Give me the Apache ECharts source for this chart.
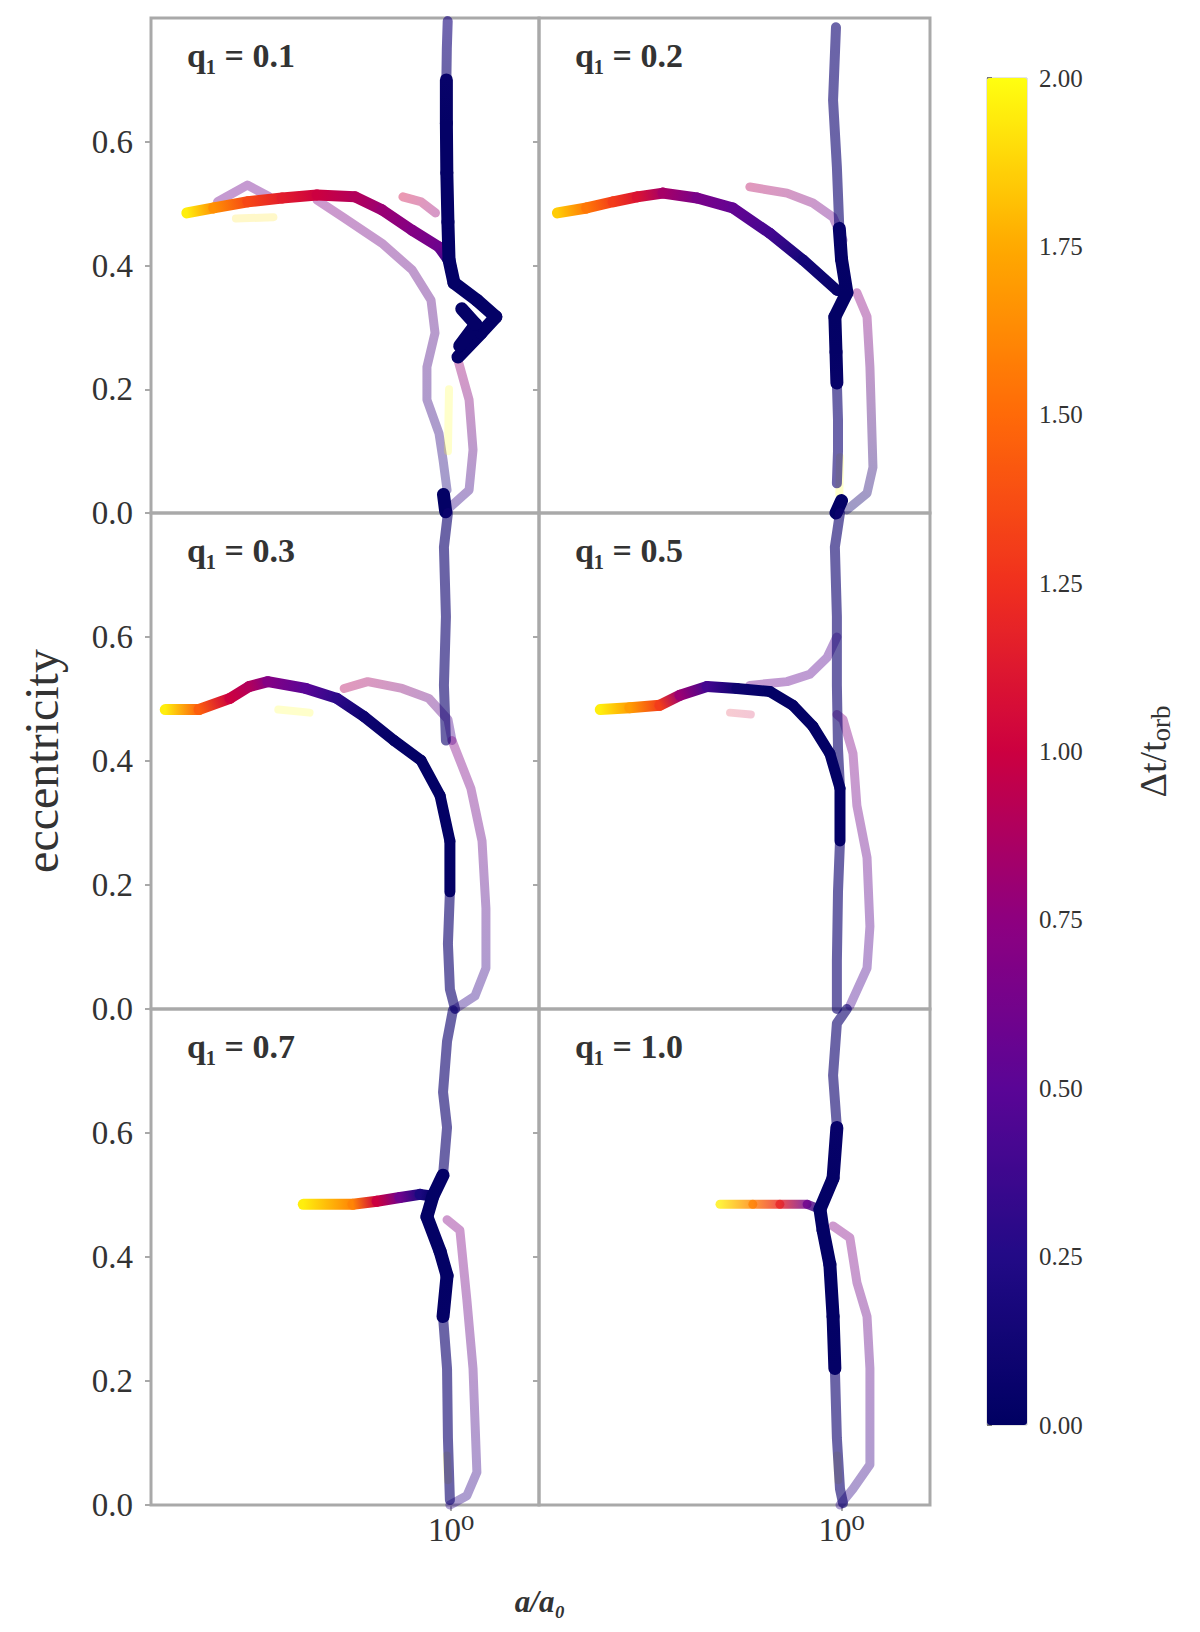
<!DOCTYPE html>
<html><head><meta charset="utf-8">
<script src="https://cdn.jsdelivr.net/npm/echarts@6/dist/echarts.min.js"></script>
<style>html,body{margin:0;padding:0;background:#fff}#c{width:1200px;height:1632px}</style>
</head><body><div id="c"></div>
<script>
// ---------- labels / ticks ----------
const panelLabels = ['q\u2081 = 0.1','q\u2081 = 0.2','q\u2081 = 0.3','q\u2081 = 0.5','q\u2081 = 0.7','q\u2081 = 1.0'];
const yTickValues = [0, 0.2, 0.4, 0.6];
const colorbarTicks = [0, 0.25, 0.5, 0.75, 1.0, 1.25, 1.5, 1.75, 2.0];
const xTickLabel = '10\u2070';
const cmapColors = ['#000062','#220a86','#5a0596','#8e0080','#cc0040','#f0301e','#ff6a08','#ffaa00','#ffff10'];

// ---------- trajectories: [a/a0, eccentricity, Δt] ----------
// panel 1 (q=0.1)
const p1_main = [[0.295,0.485,1.95],[0.334,0.493,1.65],[0.391,0.503,1.35],[0.458,0.509,1.15],[0.538,0.514,1.0],[0.641,0.511,0.9],[0.726,0.490,0.8],[0.835,0.457,0.7],[0.945,0.430,0.6],[0.995,0.405,0.3],[1.013,0.372,0.08]];
const p1_vert = [[1.032,0.252,0.03],[1.148,0.291,0.03],[1.229,0.317,0.03],[1.126,0.344,0.03],[1.013,0.372,0.03],[0.990,0.409,0.03],[0.985,0.47,0.03],[0.980,0.55,0.03],[0.978,0.63,0.03],[0.978,0.70,0.05]];
const p1_top = [[0.978,0.70,0.1],[0.980,0.75,0.15],[0.984,0.795,0.2]];
const p1_bulge = [[1.04,0.27,0.03],[1.12,0.305,0.03],[1.05,0.33,0.03]];
const p1_lower = [[0.538,0.506,0.7],[0.607,0.478,0.6],[0.726,0.436,0.6],[0.835,0.393,0.55],[0.911,0.344,0.5],[0.928,0.291,0.45],[0.894,0.236,0.4],[0.894,0.183,0.3],[0.945,0.129,0.25],[0.963,0.086,0.2],[0.981,0.037,0.2]];
const p1_right = [[1.032,0.247,0.8],[1.086,0.183,0.8],[1.106,0.102,0.8],[1.086,0.037,0.7],[0.981,0.005,0.3]];
const p1_branch = [[0.80,0.511,1.0],[0.87,0.503,0.9],[0.93,0.485,0.8]];
const p1_bump = [[0.34,0.503,0.6],[0.39,0.530,0.55],[0.43,0.512,0.6]];
const p1_pale = [[0.37,0.476,1.9],[0.44,0.478,1.9]];
const p1_pale2 = [[0.99,0.20,2.0],[0.985,0.10,2.0]];
const p1_end = [[0.965,0.03,0.02],[0.975,0.002,0.02]];
// panel 2 (q=0.2)
const p2_main = [[0.272,0.485,1.85],[0.311,0.493,1.55],[0.351,0.503,1.3],[0.392,0.511,1.1],[0.441,0.517,0.85],[0.516,0.509,0.65],[0.608,0.493,0.55],[0.720,0.452,0.4],[0.838,0.409,0.15],[0.979,0.360,0.05],[1.025,0.356,0.02]];
const p2_down = [[1.025,0.356,0.02],[0.970,0.317,0.02],[0.975,0.26,0.03],[0.979,0.21,0.05]];
const p2_tail = [[0.979,0.21,0.1],[0.984,0.15,0.1],[0.984,0.10,0.15],[0.979,0.048,0.15]];
const p2_upA = [[1.025,0.356,0.02],[1.0,0.41,0.03],[0.99,0.46,0.05]];
const p2_upB = [[0.99,0.46,0.1],[0.979,0.559,0.1],[0.962,0.667,0.1],[0.975,0.785,0.12]];
const p2_right = [[1.073,0.356,0.75],[1.124,0.317,0.75],[1.139,0.236,0.75],[1.155,0.074,0.7],[1.124,0.032,0.5],[1.025,0.005,0.1]];
const p2_branch = [[0.657,0.527,0.9],[0.779,0.517,0.75],[0.877,0.501,0.65],[0.962,0.478,0.6],[1.007,0.441,0.5]];
const p2_pale = [[0.993,0.09,2.0],[0.99,0.03,2.0]];
const p2_end = [[1.0,0.02,0.02],[0.975,0.0,0.02]];
// panel 3 (q=0.3)
const p3_main = [[0.267,0.483,1.95],[0.312,0.483,1.45],[0.360,0.501,1.0],[0.393,0.520,0.9],[0.429,0.528,0.7],[0.511,0.517,0.5],[0.590,0.501,0.3],[0.668,0.472,0.1],[0.768,0.433,0.03],[0.870,0.401,0.02],[0.950,0.344,0.02],[0.994,0.271,0.02],[0.994,0.189,0.03]];
const p3_tail = [[0.994,0.189,0.1],[0.985,0.105,0.12],[0.994,0.032,0.12],[1.018,0.0,0.1]];
const p3_up = [[0.976,0.433,0.1],[0.967,0.522,0.1],[0.976,0.633,0.1],[0.967,0.745,0.1],[0.985,0.80,0.1]];
const p3_branch = [[0.61,0.517,0.9],[0.68,0.528,0.8],[0.797,0.517,0.7],[0.902,0.501,0.6],[0.985,0.467,0.5],[1.004,0.433,0.4]];
const p3_right = [[1.004,0.433,0.7],[1.095,0.356,0.7],[1.153,0.271,0.7],[1.174,0.162,0.7],[1.174,0.066,0.7],[1.116,0.021,0.6],[1.018,0.0,0.3]];
const p3_pale = [[0.45,0.483,2.0],[0.52,0.478,2.0]];
// panel 4 (q=0.5)
const p4_main = [[0.331,0.483,1.95],[0.379,0.486,1.7],[0.435,0.490,1.3],[0.477,0.506,0.8],[0.540,0.520,0.4],[0.619,0.517,0.1],[0.720,0.512,0.02],[0.800,0.490,0.02],[0.877,0.456,0.02],[0.948,0.412,0.02],[0.993,0.356,0.02],[0.993,0.271,0.03]];
const p4_tail = [[0.993,0.271,0.1],[0.984,0.189,0.1],[0.979,0.078,0.12],[0.979,0.0,0.1]];
const p4_up = [[0.993,0.356,0.1],[0.984,0.42,0.1],[0.979,0.522,0.1],[0.979,0.633,0.1],[0.970,0.745,0.1],[0.993,0.80,0.1]];
const p4_branch = [[0.657,0.522,0.6],[0.779,0.528,0.6],[0.865,0.540,0.55],[0.936,0.567,0.5],[0.979,0.60,0.45]];
const p4_right = [[0.979,0.475,0.7],[1.007,0.467,0.7],[1.054,0.412,0.7],[1.073,0.328,0.7],[1.124,0.244,0.7],[1.139,0.133,0.7],[1.124,0.066,0.65],[1.039,0.005,0.4]];
const p4_pink = [[0.60,0.478,1.1],[0.66,0.475,1.0]];
// panel 5 (q=0.7)
const p5_main = [[0.505,0.485,1.95],[0.635,0.485,1.6],[0.710,0.490,1.0],[0.789,0.496,0.6],[0.866,0.501,0.2],[0.919,0.498,0.02]];
const p5_down = [[0.919,0.498,0.02],[0.894,0.465,0.02],[0.950,0.409,0.02],[0.981,0.370,0.02],[0.963,0.304,0.03]];
const p5_tail = [[0.963,0.304,0.1],[0.981,0.220,0.1],[0.985,0.108,0.12],[0.994,0.008,0.1]];
const p5_upA = [[0.919,0.498,0.02],[0.963,0.532,0.03]];
const p5_upB = [[0.963,0.532,0.1],[0.981,0.609,0.1],[0.963,0.666,0.1],[0.981,0.748,0.1],[1.008,0.798,0.1]];
const p5_right = [[0.981,0.46,0.7],[1.041,0.443,0.7],[1.075,0.331,0.7],[1.106,0.220,0.7],[1.126,0.053,0.65],[1.075,0.015,0.5],[0.994,0.0,0.3]];
const p5_pale = [[0.98,0.08,2.0],[0.985,0.04,2.0]];
// panel 6 (q=1.0)
const p6_main = [[0.573,0.485,1.95],[0.666,0.485,1.6],[0.754,0.485,1.2],[0.854,0.485,0.6],[0.906,0.477,0.1]];
const p6_down = [[0.906,0.477,0.02],[0.919,0.443,0.02],[0.948,0.388,0.02],[0.962,0.304,0.02],[0.970,0.220,0.03]];
const p6_tail = [[0.970,0.220,0.1],[0.979,0.108,0.12],[0.993,0.026,0.12],[1.007,0.003,0.1]];
const p6_upA = [[0.906,0.477,0.02],[0.962,0.527,0.03],[0.979,0.609,0.05]];
const p6_upB = [[0.979,0.609,0.1],[0.962,0.693,0.1],[0.979,0.777,0.1],[1.025,0.80,0.1]];
const p6_right = [[0.962,0.45,0.7],[1.039,0.431,0.7],[1.073,0.359,0.7],[1.124,0.304,0.7],[1.139,0.220,0.7],[1.139,0.065,0.65],[1.054,0.026,0.5],[0.993,0.0,0.3]];
const p6_pale = [[0.98,0.08,2.0],[0.985,0.04,2.0]];

// ---------- per-panel grouping and style kinds (kept separate from values) ----------
const panelLines = [
  [p1_bump, p1_branch, p1_lower, p1_right, p1_pale, p1_pale2, p1_top, p1_main, p1_vert, p1_bulge, p1_end],
  [p2_branch, p2_right, p2_pale, p2_tail, p2_upB, p2_main, p2_down, p2_upA, p2_end],
  [p3_branch, p3_right, p3_pale, p3_up, p3_tail, p3_main],
  [p4_branch, p4_right, p4_pink, p4_up, p4_tail, p4_main],
  [p5_right, p5_pale, p5_upB, p5_tail, p5_main, p5_down, p5_upA],
  [p6_right, p6_pale, p6_upB, p6_tail, p6_main, p6_down, p6_upA]
];
const panelKinds = [
  [3,3,3,3,4,4,2,0,1,1,1],
  [3,3,4,2,2,0,1,1,1],
  [3,3,4,2,2,0],
  [3,3,4,2,2,0],
  [3,4,2,2,0,1,1],
  [3,4,2,2,5,1,1]
];
// kind: width, opacity, segmented (per-segment gradient) or single polyline
const STYLES = [{w:11,o:1,seg:true},{w:13,o:1,seg:true},{w:10,o:0.62,seg:false},{w:9,o:0.4,seg:false},{w:8,o:0.22,seg:false},{w:9,o:0.8,seg:true}];

function hexRgb(h){return [parseInt(h.slice(1,3),16),parseInt(h.slice(3,5),16),parseInt(h.slice(5,7),16)];}
const cmapRgb = cmapColors.map(hexRgb);
function cmap(c){
  const n = cmapRgb.length - 1;
  let t = Math.max(0, Math.min(1, c / 2)) * n;
  let i = Math.min(Math.floor(t), n - 1), f = t - i;
  const a = cmapRgb[i], b = cmapRgb[i+1];
  return 'rgb(' + [0,1,2].map(k => Math.round(a[k] + (b[k]-a[k])*f)).join(',') + ')';
}
// one data item per trajectory: [a_start, e_start, mean Δt, trajectory index]
function buildItems(lines){
  return lines.map((pts, k) => [pts[0][0], pts[0][1], pts.reduce((s, p) => s + p[2], 0) / pts.length, k]);
}
function grad(p1, p2, c1, c2){
  if (c1 === c2 || (p1[0] === p2[0] && p1[1] === p2[1])) return c1;
  return new echarts.graphic.LinearGradient(p1[0], p1[1], p2[0], p2[1], [{offset:0,color:c1},{offset:1,color:c2}], true);
}
function renderTraj(params, api){
  const panel = params.seriesIndex;
  const k = api.value(3);
  const pts = panelLines[panel][k];
  const st = STYLES[panelKinds[panel][k]];
  const px = pts.map(p => api.coord([p[0], p[1]]));
  if (st.seg) {
    const children = [];
    for (let i = 0; i < pts.length - 1; i++) {
      children.push({type:'line', shape:{x1:px[i][0], y1:px[i][1], x2:px[i+1][0], y2:px[i+1][1]},
        style:{stroke: grad(px[i], px[i+1], cmap(pts[i][2]), cmap(pts[i+1][2])), lineWidth: st.w, lineCap:'round', opacity: st.o}});
    }
    return {type:'group', children: children};
  }
  const c1 = cmap(pts[0][2]), c2 = cmap(pts[pts.length-1][2]);
  return {type:'polyline', shape:{points: px},
    style:{stroke: grad(px[0], px[px.length-1], c1, c2), fill: 'none', lineWidth: st.w, lineCap:'round', lineJoin:'round', opacity: st.o}};
}

// ---------- layout ----------
const colLeft = [151, 539], colWidth = [388, 391];
const rowTop = [18, 513, 1009], rowHeight = [495, 496, 496];
const SERIF = '"Liberation Serif", "DejaVu Serif", serif';
const GRID_COLOR = '#a9a9a9';
const TXT = '#333';

const grids = [], xAxes = [], yAxes = [], series = [], titles = [];
for (let i = 0; i < 6; i++) {
  const r = Math.floor(i / 2), c = i % 2;
  grids.push({left: colLeft[c], top: rowTop[r], width: colWidth[c], height: rowHeight[r],
    show: true, borderColor: GRID_COLOR, borderWidth: 3, backgroundColor: 'transparent', containLabel: false, outerBoundsMode: 'none'});
  xAxes.push({type: 'log', logBase: 10, gridIndex: i, min: 0.25, max: 1.5,
    axisLine: {show: false}, splitLine: {show: false}, minorTick: {show: false},
    axisTick: {show: r === 2, length: 6, lineStyle: {color: GRID_COLOR, width: 2}},
    axisLabel: {show: r === 2, margin: 8, fontFamily: SERIF, fontSize: 33, color: TXT,
      formatter: v => (Math.abs(v - 1) < 1e-6 ? xTickLabel : ''), showMinLabel: false, showMaxLabel: false}});
  const yax = {type: 'value', gridIndex: i, min: 0, max: 0.8, interval: 0.2,
    axisLine: {show: false}, splitLine: {show: false},
    axisTick: {show: true, length: 6, lineStyle: {color: GRID_COLOR, width: 2}},
    axisLabel: {show: c === 0, margin: 18, fontFamily: SERIF, fontSize: 33, color: TXT,
      showMaxLabel: false, formatter: v => (yTickValues.some(t => Math.abs(t - v) < 1e-9) ? v.toFixed(1) : '')}};
  if (i === 2) {
    Object.assign(yax, {name: 'eccentricity', nameLocation: 'middle', nameRotate: 90, nameGap: 86,
      nameTextStyle: {fontFamily: SERIF, fontSize: 48, color: TXT}});
  }
  yAxes.push(yax);
  series.push({type: 'custom', xAxisIndex: i, yAxisIndex: i, silent: true, animation: false,
    encode: {x: 0, y: 1}, renderItem: renderTraj, data: buildItems(panelLines[i])});
  titles.push({text: panelLabels[i], left: colLeft[c] + 36, top: rowTop[r] + 20, padding: 0,
    textStyle: {fontFamily: SERIF, fontSize: 34, fontWeight: 'bold', color: TXT}});
}
// colorbar tick axis
grids.push({left: 987, top: 78, width: 40, height: 1347, show: true, borderColor: '#c8c8c8', borderWidth: 1, backgroundColor: 'transparent', containLabel: false, outerBoundsMode: 'none'});
xAxes.push({type: 'value', gridIndex: 6, show: false, min: 0, max: 1});
yAxes.push({type: 'value', gridIndex: 6, position: 'right', min: 0, max: 2, interval: 0.25,
  axisLine: {show: false}, splitLine: {show: false},
  axisTick: {show: true, length: 5, lineStyle: {color: '#555', width: 1.5}},
  axisLabel: {margin: 12, fontFamily: SERIF, fontSize: 25, color: TXT,
    formatter: v => (colorbarTicks.some(t => Math.abs(t - v) < 1e-9) ? v.toFixed(2) : '')},
  name: '{n|\u0394t/t}{s|orb}', nameLocation: 'middle', nameRotate: 90, nameGap: 104,
  nameTextStyle: {fontFamily: SERIF, fontSize: 38, color: TXT,
    rich: {n: {fontFamily: SERIF, fontSize: 38, color: TXT}, s: {fontFamily: SERIF, fontSize: 27, color: TXT, padding: [16, 0, 0, 0]}}}});
titles.push({text: 'a/a\u2080', left: 540, top: 1586, textAlign: 'center', padding: 0,
  textStyle: {fontFamily: SERIF, fontSize: 31, fontStyle: 'italic', color: TXT}});

const chart = echarts.init(document.getElementById('c'), null, {renderer: 'svg', width: 1200, height: 1632});
chart.setOption({
  backgroundColor: '#fff',
  animation: false,
  title: titles,
  grid: grids,
  xAxis: xAxes,
  yAxis: yAxes,
  visualMap: {type: 'continuous', min: 0, max: 2, dimension: 2, seriesIndex: [0,1,2,3,4,5],
    orient: 'vertical', left: 987, top: 78, itemWidth: 40, itemHeight: 1347, padding: 0,
    calculable: false, hoverLink: false, text: null, show: true,
    inRange: {color: cmapColors}},
  series: series
});
</script></body></html>
